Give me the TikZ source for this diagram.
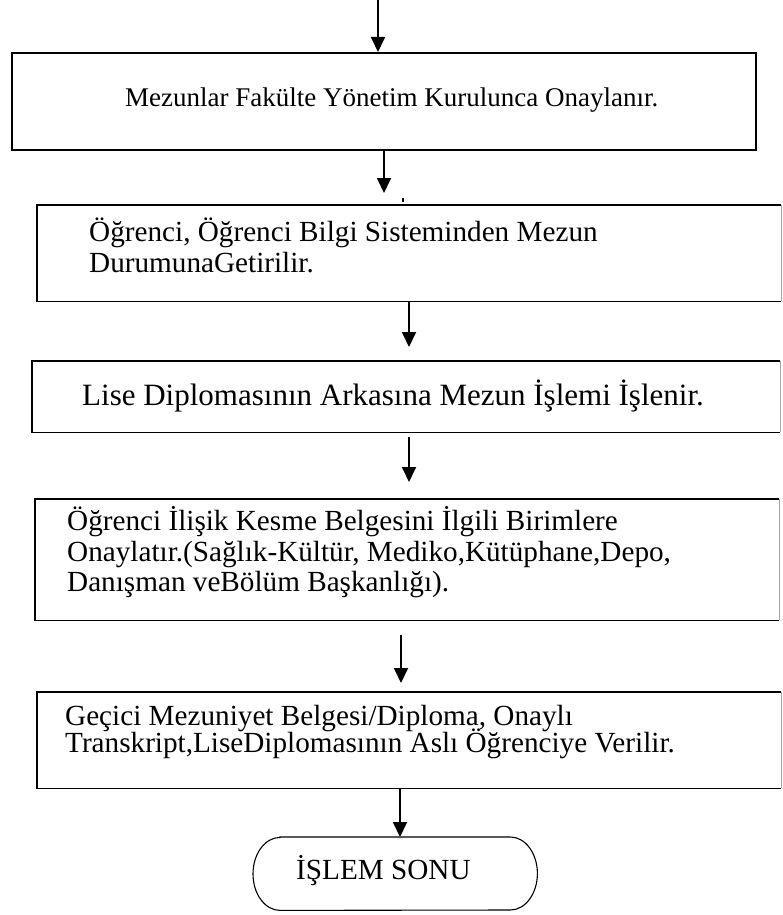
\documentclass[tikz,border=0pt]{standalone}
\usepackage{fontspec}
\setmainfont{Liberation Serif}
\usetikzlibrary{arrows.meta}
\begin{document}
\begin{tikzpicture}[x=1pt,y=-1pt,
  stepbox/.style={inner sep=0pt, anchor=north west},
  boxline/.style={draw=black, line width=1.6pt},
  faintline/.style={draw=black!35, line width=0.8pt},
  endline/.style={draw=black, line width=1.1pt},
  arr/.style={line width=1.8pt, -{Triangle[width=14pt,length=15pt]}},
  txt/.style={inner sep=0pt, anchor=base west, font=\fontsize{29.2}{29}\selectfont},
  txtA/.style={txt, font=\fontsize{27}{29}\selectfont},
  txtC/.style={txt, font=\fontsize{31}{29}\selectfont}]
\useasboundingbox (0,0) rectangle (782,915);
\fill[white] (0,0) rectangle (782,915);

% process boxes
\node[stepbox, draw=black, line width=1.6pt, minimum width=744pt, minimum height=97pt] (b1) at (11,52) {};
\node[stepbox, minimum width=744pt, minimum height=96pt]  (b2) at (37,205) {};
\node[stepbox, minimum width=748pt, minimum height=71pt]  (b3) at (32,361) {};
\node[stepbox, minimum width=744pt, minimum height=121pt] (b4) at (35,499) {};
\node[stepbox, minimum width=744pt, minimum height=96pt]  (b5) at (37,692) {};
\node[stepbox, minimum width=284pt, minimum height=73pt]  (term) at (253,837) {};

% outlines of boxes 2-5: dark on three sides, faint on the right
\foreach \b in {b2,b3,b4,b5}{
  \draw[boxline] (\b.north east) -- (\b.north west) -- (\b.south west) -- (\b.south east);
  \draw[faintline] (\b.north east) -- (\b.south east);
}

% terminal outline with elliptical ends
\draw[endline] ([xshift=27pt]term.north west) -- ([xshift=-27pt]term.north east)
  arc[start angle=90, end angle=-90, x radius=27pt, y radius=36.5pt]
  -- ([xshift=27pt]term.south west)
  arc[start angle=270, end angle=90, x radius=27pt, y radius=36.5pt] -- cycle;

% box texts
\node[txtA] (t1)  at (125,107) {Mezunlar Fakülte Yönetim Kurulunca Onaylanır.};
\node[txt]  (t2a) at (89,241)  {Öğrenci, Öğrenci Bilgi Sisteminden Mezun};
\node[txt]  (t2b) at (89,272)  {DurumunaGetirilir.};
\node[txtC] (t3)  at (82,405)  {Lise Diplomasının Arkasına Mezun İşlemi İşlenir.};
\node[txt]  (t4a) at (67,530)  {Öğrenci İlişik Kesme Belgesini İlgili Birimlere};
\node[txt]  (t4b) at (67,561)  {Onaylatır.(Sağlık-Kültür, Mediko,Kütüphane,Depo,};
\node[txt]  (t4c) at (67,591)  {Danışman veBölüm Başkanlığı).};
\node[txt]  (t5a) at (65,725)  {Geçici Mezuniyet Belgesi/Diploma, Onaylı};
\node[txt]  (t5b) at (65,752)  {Transkript,LiseDiplomasının Aslı Öğrenciye Verilir.};
\node[txt]  (t6)  at (296,879) {İŞLEM SONU};

% arrow end points
\coordinate (s0) at (378,0);
\coordinate (e1) at (384,193);
\coordinate (e2) at (409,347);
\coordinate (e3) at (409,482);
\coordinate (e4) at (401,683);
\coordinate (e5) at (400,837);

% connectors
\draw[arr] (s0) -- (s0 |- b1.north);
\draw[arr] (e1 |- b1.south) -- (e1);
\draw[arr] (e2 |- b2.south) -- (e2);
\draw[arr, shorten <=5pt] (e3 |- b3.south) -- (e3);
\draw[arr, shorten <=15pt] (e4 |- b4.south) -- (e4);
\draw[arr] (e5 |- b5.south) -- (e5 |- term.north);

% small tick above the second box
\draw[line width=1.2pt] (403,198) -- (403,202);
\end{tikzpicture}
\end{document}
